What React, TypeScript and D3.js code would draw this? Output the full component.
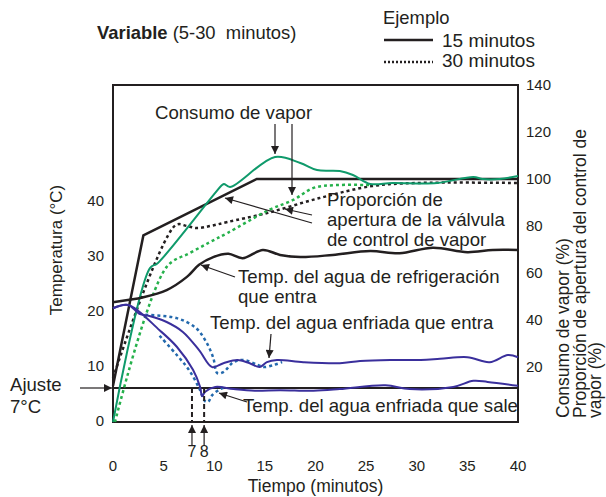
import * as d3 from "d3";

const W = 606;
const H = 497;

const MINUTE_TICKS = [0, 5, 10, 15, 20, 25, 30, 35, 40];
const TEMP_TICKS = [0, 10, 20, 30, 40];
const PCT_TICKS = [20, 40, 60, 80, 100, 120, 140];

// right axis (%) series: [minuto, %]
const valve15 = [[0, 12], [3, 76], [14.2, 100], [40, 100]];
const valve30 = [[0, 15.3], [6.2, 80.4], [7.3, 80], [8.3, 79.1], [9.6, 80], [11.3, 81.7], [15.2, 85.5], [20.4, 91.9], [25.6, 97], [30, 98.3], [40, 98.3]];
const steam15 = [[0, -3.4], [3.65, 62.1], [4.44, 64.3], [10.77, 97.4], [10.96, 97.9], [11.56, 96.6], [16, 109.4], [18.5, 106.8], [20.15, 103.8], [22.4, 103.4], [23.7, 101.7], [25.4, 97.9], [27.6, 98.3], [32, 98.3], [35.6, 100.9], [36.5, 100], [38.2, 100], [40, 101.3]];
const steam30 = [[0.2, -3.4], [5.3, 62.6], [7.6, 68.5], [9.6, 73.2], [11.3, 77], [15.4, 86.8], [17.8, 91.1], [19.8, 96.2], [22, 97.4], [25.4, 97.4]];

// left axis (°C) series: [minuto, °C]
const coolingIn = [[0, 21.6], [3, 22.5], [5.3, 23.8], [7.3, 26.2], [8.5, 28.4], [9.9, 29.8], [11.4, 30.4], [12.8, 29.6], [14.8, 31.1], [16.5, 30.2], [18.5, 29.8], [21.7, 30.2], [25.4, 30.9], [28.3, 30.5], [31.6, 31.5], [35, 30.7], [37.5, 31.1], [40, 31.1]];
const chilledIn15 = [[0, 20.5], [1.5, 21.1], [2.6, 19.5], [3.6, 19.1], [5.3, 18], [6.9, 16.2], [8.5, 12.9], [9.8, 9.8], [10.9, 10.5], [12.3, 11.1], [13.5, 10.5], [14.5, 9.8], [15.2, 10.7], [16.2, 11.1], [18.8, 10.7], [22.4, 10.5], [24.4, 10.9], [27.4, 11.1], [30.4, 11.1], [32.3, 11.3], [35, 11.6], [37.2, 10.7], [39, 12], [40, 11.6]];
const chilledOut15 = [[0, 20.5], [1.5, 21.1], [4.6, 16.5], [6.3, 13.5], [7.9, 9.3], [8.6, 6.2], [8.8, 4.5], [9.1, 5.3], [10.1, 6.2], [11.9, 5.8], [14, 5.5], [16.5, 5.6], [19.8, 5.5], [22.4, 5.8], [26.9, 6.5], [29.3, 5.8], [33.6, 6.2], [35.6, 7.3], [37, 7.1], [40, 6.4]];
const chilledIn30 = [[3.2, 19.3], [6.3, 18.7], [8.2, 16.9], [9.2, 14.4], [9.9, 11.5], [10.3, 8.7], [10.9, 8.9], [11.9, 10.7], [12.9, 11.1], [14.3, 10.2], [14.9, 9.8], [15.9, 10.2], [16.7, 10.7]];
const chilledOut30 = [[4.6, 15.5], [6.3, 12], [7.5, 9.3], [8.5, 6], [9.1, 3.6], [9.4, 3.5], [9.8, 4.7], [10.6, 5.8], [11.2, 6.2]];

const SETPOINT = 6.0;
const MARK_MINUTES = [7.8, 9.0];
const MARK_LABELS = ["7", "8"];

const INK = "#231f20";
const GREEN = "#0f9a6b";
const GREEN_DOT = "#25b14b";
const BLUE = "#3a2f9c";
const BLUE_DOT = "#2369ad";
const FONT = "'Liberation Sans', Arial, Helvetica, sans-serif";
const NOTE = 18.6;

export default function App() {
  const x = d3.scaleLinear().domain([0, 40]).range([113, 518]);
  const yT = d3.scaleLinear().domain([0, 40]).range([421, 201]);
  const yP = d3.scaleLinear().domain([20, 140]).range([367, 85]);
  const top = 85;
  const bottom = 422;

  const smoothT = d3.line<number[]>().x((d) => x(d[0])).y((d) => yT(d[1])).curve(d3.curveCatmullRom.alpha(0.5));
  const smoothP = d3.line<number[]>().x((d) => x(d[0])).y((d) => yP(d[1])).curve(d3.curveCatmullRom.alpha(0.5));
  const straightP = d3.line<number[]>().x((d) => x(d[0])).y((d) => yP(d[1]));

  const txt = { fontFamily: FONT, fill: INK };
  const ySet = yT(SETPOINT);

  return (
    <svg width={W} height={H} style={{ position: "absolute", left: 0, top: 0, background: "#fff" }}>
      <defs>
        <marker id="ah" viewBox="0 0 10 10" refX="10" refY="5" markerWidth="9" markerHeight="8" markerUnits="userSpaceOnUse" orient="auto">
          <path d="M0,0 L10,5 L0,10 z" fill={INK} />
        </marker>
      </defs>

      {/* header */}
      <text x={97} y={39} fontSize={18.4} {...txt}>
        <tspan fontWeight="bold">Variable</tspan>{" (5-30\u00a0 minutos)"}
      </text>
      <text x={383} y={24} fontSize={18.4} {...txt}>Ejemplo</text>
      <line x1={384} x2={433} y1={40} y2={40} stroke={INK} strokeWidth={2.5} />
      <text x={442} y={47} fontSize={19} {...txt}>15 minutos</text>
      <line x1={384} x2={433} y1={62} y2={62} stroke={INK} strokeWidth={2.5} strokeDasharray="2,2" />
      <text x={442} y={67} fontSize={19} {...txt}>30 minutos</text>

      {/* plot box */}
      <rect x={x(0)} y={top} width={x(40) - x(0)} height={bottom - top} fill="none" stroke={INK} strokeWidth={2} />
      <line x1={x(0)} x2={x(40)} y1={ySet} y2={ySet} stroke={INK} strokeWidth={2} />

      {/* ticks */}
      {TEMP_TICKS.map((t) => (
        <text key={"t" + t} x={104} y={yT(t)} dy="0.35em" textAnchor="end" fontSize={15} {...txt}>{t}</text>
      ))}
      {PCT_TICKS.map((t) => (
        <text key={"p" + t} x={526} y={yP(t)} dy="0.35em" fontSize={15} {...txt}>{t}</text>
      ))}
      {MINUTE_TICKS.map((t) => (
        <text key={"m" + t} x={x(t)} y={466} dy="0.35em" textAnchor="middle" fontSize={15} {...txt}>{t}</text>
      ))}

      {/* axis titles */}
      <text x={x(20)} y={492} textAnchor="middle" fontSize={17.5} {...txt}>Tiempo (minutos)</text>
      <text transform="translate(62,250) rotate(-90)" textAnchor="middle" fontSize={17} {...txt}>Temperatura (°C)</text>
      <text transform="translate(569,418) rotate(-90)" fontSize={17.5} {...txt}>Consumo de vapor (%)</text>
      <text transform="translate(586,418) rotate(-90)" fontSize={17.5} {...txt}>Proporción de apertura del control de</text>
      <text transform="translate(601,418) rotate(-90)" fontSize={17.5} {...txt}>vapor (%)</text>

      {/* series */}
      <path d={straightP(valve15) ?? ""} fill="none" stroke={INK} strokeWidth={2.5} />
      <path d={smoothP(valve30) ?? ""} fill="none" stroke={INK} strokeWidth={2.5} strokeDasharray="3,3" />
      <path d={smoothP(steam30) ?? ""} fill="none" stroke={GREEN_DOT} strokeWidth={2.5} strokeDasharray="3,3" />
      <path d={smoothP(steam15) ?? ""} fill="none" stroke={GREEN} strokeWidth={2} />
      <path d={smoothT(coolingIn) ?? ""} fill="none" stroke={INK} strokeWidth={2.5} />
      <path d={smoothT(chilledIn30) ?? ""} fill="none" stroke={BLUE_DOT} strokeWidth={2.5} strokeDasharray="3,3" />
      <path d={smoothT(chilledOut30) ?? ""} fill="none" stroke={BLUE_DOT} strokeWidth={2.5} strokeDasharray="3,3" />
      <path d={smoothT(chilledIn15) ?? ""} fill="none" stroke={BLUE} strokeWidth={2} />
      <path d={smoothT(chilledOut15) ?? ""} fill="none" stroke={BLUE} strokeWidth={2} />

      {/* 7 / 8 markers */}
      {MARK_MINUTES.map((m, i) => (
        <g key={"mk" + i}>
          <line x1={x(m)} x2={x(m)} y1={ySet} y2={bottom} stroke={INK} strokeWidth={2} strokeDasharray="5,3" />
          <line x1={x(m)} x2={x(m)} y1={446} y2={425} stroke={INK} strokeWidth={1.2} markerEnd="url(#ah)" />
          <text x={x(m)} y={451} dy="0.35em" textAnchor="middle" fontSize={16} {...txt}>{MARK_LABELS[i]}</text>
        </g>
      ))}

      {/* annotations */}
      <text x={155} y={119} fontSize={NOTE} {...txt}>Consumo de vapor</text>
      <line x1={275} x2={275} y1={124} y2={154} stroke={INK} strokeWidth={1.2} markerEnd="url(#ah)" />
      <line x1={292} x2={292} y1={124} y2={195} stroke={INK} strokeWidth={1.2} markerEnd="url(#ah)" />

      <text fontSize={NOTE} {...txt}>
        <tspan x={327} y={206}>Proporción de</tspan>
        <tspan x={327} y={226}>apertura de la válvula</tspan>
        <tspan x={327} y={246}>de control de vapor</tspan>
      </text>
      <line x1={312} y1={223} x2={225} y2={198} stroke={INK} strokeWidth={1.2} markerEnd="url(#ah)" />
      <line x1={312} y1={215} x2={285} y2={209} stroke={INK} strokeWidth={1.2} markerEnd="url(#ah)" />

      <text fontSize={NOTE} {...txt}>
        <tspan x={238} y={283}>Temp. del agua de refrigeración</tspan>
        <tspan x={238} y={303}>que entra</tspan>
      </text>
      <line x1={235} y1={277} x2={201} y2={265} stroke={INK} strokeWidth={1.2} markerEnd="url(#ah)" />

      <text x={210} y={329} fontSize={NOTE} {...txt}>Temp. del agua enfriada que entra</text>
      <line x1={271} y1={334} x2={269} y2={358} stroke={INK} strokeWidth={1.2} markerEnd="url(#ah)" />

      <text x={243} y={412} fontSize={NOTE} {...txt}>Temp. del agua enfriada que sale</text>
      <line x1={247} y1={402} x2={219} y2={393} stroke={INK} strokeWidth={1.2} markerEnd="url(#ah)" />

      <text fontSize={NOTE} {...txt}>
        <tspan x={10} y={391}>Ajuste</tspan>
        <tspan x={10} y={413}>7°C</tspan>
      </text>
      <line x1={80} y1={ySet} x2={112} y2={ySet} stroke={INK} strokeWidth={1.2} markerEnd="url(#ah)" />
    </svg>
  );
}
